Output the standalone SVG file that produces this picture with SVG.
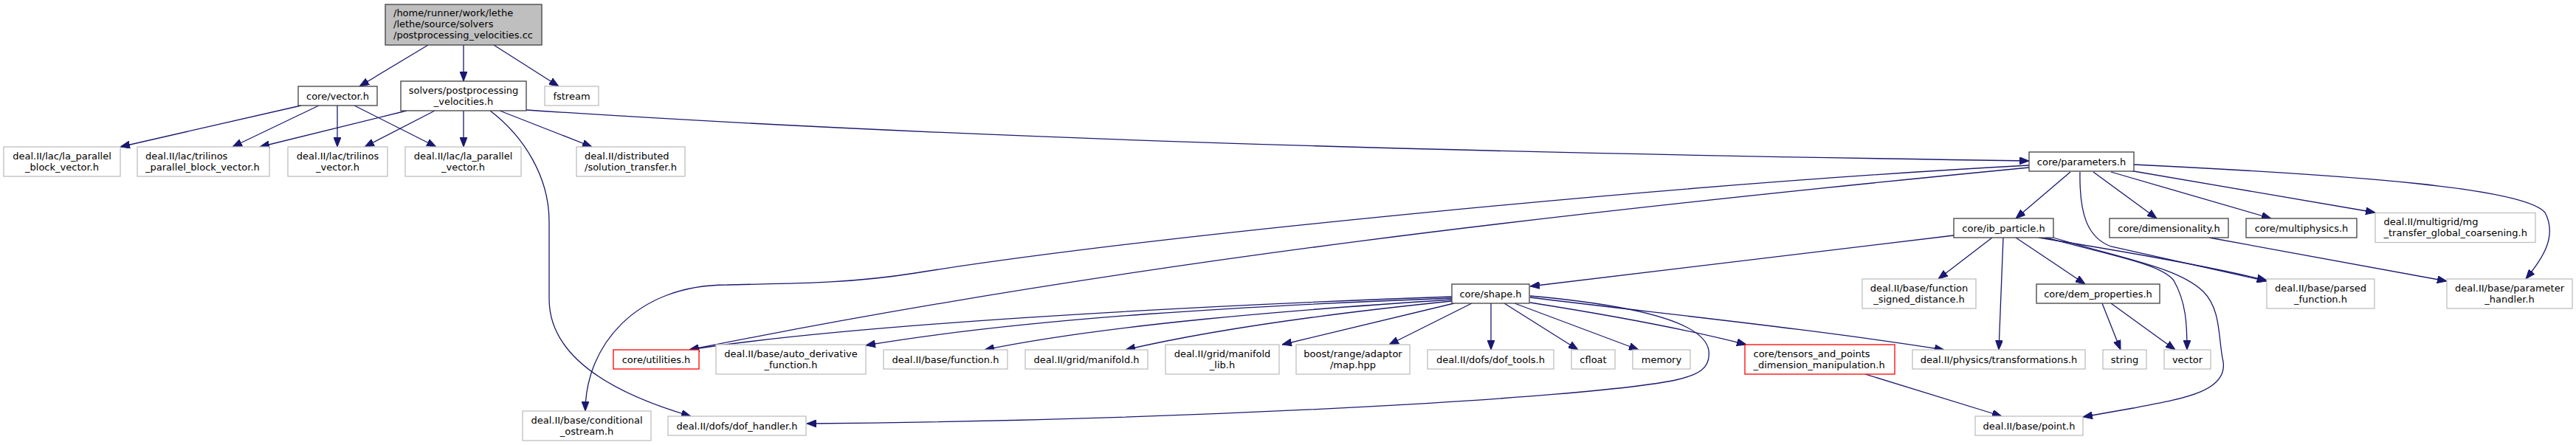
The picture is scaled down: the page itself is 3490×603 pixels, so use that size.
<svg xmlns="http://www.w3.org/2000/svg" width="3490" height="603" viewBox="0 0 3490 603">
<defs>
<marker id="ah" viewBox="0 0 13 10" refX="13" refY="5" markerWidth="13" markerHeight="10" markerUnits="userSpaceOnUse" orient="auto">
<path d="M0,0 L13,5 L0,10 z" fill="#191970" stroke="#191970" stroke-width="1"/>
</marker>
<style>
rect{stroke-width:1.3}
.doc{fill:#fff;stroke:#404040}
.ext{fill:#fff;stroke:#bfbfbf}
.red{fill:#fff;stroke:#ff0000}
.root{fill:#bfbfbf;stroke:#404040}
text{font-family:"DejaVu Sans",sans-serif;font-size:13px;fill:#000}
.c{text-anchor:middle}
.e{fill:none;stroke:#191970;stroke-width:1.3;marker-end:url(#ah)}
</style>
</defs>
<rect width="3490" height="603" fill="#fff"/>
<g id="edges">
<path class="e" d="M580,61 L487,117"/>
<path class="e" d="M628,61 L628,110"/>
<path class="e" d="M669,61 L757,117"/>
<path class="e" d="M408,143 L163,199"/>
<path class="e" d="M432,143 L315,199"/>
<path class="e" d="M457,143 L457,199"/>
<path class="e" d="M480,143 L591,199"/>
<path class="e" d="M551,150 L352,199"/>
<path class="e" d="M589,150 L494,199"/>
<path class="e" d="M628,150 L628,199"/>
<path class="e" d="M677,150 L802,199"/>
<path class="e" d="M664,150 C710,185 744,240 744,300 L744,405 C744,480 820,530 936,564"/>
<path class="e" d="M713,149 C1400,195 2200,210 2749,218"/>
<path class="e" d="M2805,233 L2731,296"/>
<path class="e" d="M2836,233 L2922,296"/>
<path class="e" d="M2860,233 L3077,296"/>
<path class="e" d="M2885,231 L3218,288"/>
<path class="e" d="M2891,223 C3200,238 3420,255 3448,288 C3465,320 3445,350 3422,378"/>
<path class="e" d="M2818,233 C2817,290 2828,322 2860,334 L3071,381"/>
<path class="e" d="M2749,227 C2149,285 1534,353 934,474"/>
<path class="e" d="M2749,224 C2249,251 1540,322 1240,370 C1140,386 1050,384 985,386 C860,386 793,470 793,557"/>
<path class="e" d="M2647,319 L2073,388"/>
<path class="e" d="M2699,322 L2626,378"/>
<path class="e" d="M2714,322 L2708,474"/>
<path class="e" d="M2731,322 L2825,385"/>
<path class="e" d="M2762,322 C2860,338 2980,358 3071,380"/>
<path class="e" d="M2771,322 C2880,350 2930,360 2945,380 C2962,410 2963,440 2963,474"/>
<path class="e" d="M2782,322 C2880,352 2950,362 2985,395 C3010,420 3005,460 3012,490 C3018,530 2960,540 2890,553 L2822,565"/>
<path class="e" d="M2848,411 L2873,474"/>
<path class="e" d="M2860,411 L2947,474"/>
<path class="e" d="M2993,322 L3315,381"/>
<path class="e" d="M2527,507 L2712,564"/>
<path class="e" d="M1967,402 C1600,415 1150,440 934,474"/>
<path class="e" d="M1967,404 C1700,414 1400,430 1173,468"/>
<path class="e" d="M1967,406 C1750,420 1500,440 1334,474"/>
<path class="e" d="M1967,408 C1800,425 1650,445 1525,474"/>
<path class="e" d="M1970,411 L1737,467"/>
<path class="e" d="M1994,411 L1882,467"/>
<path class="e" d="M2020,411 L2020,474"/>
<path class="e" d="M2038,411 L2138,474"/>
<path class="e" d="M2052,411 L2220,474"/>
<path class="e" d="M2073,403 C2250,425 2450,445 2634,474"/>
<path class="e" d="M2073,410 C2200,430 2300,450 2366,467"/>
<path class="e" d="M2073,401 C2230,415 2310,440 2315,475 C2318,500 2300,508 2270,515 C2150,540 1600,570 1093,574"/>
</g>
<g id="n0"><rect class="root" x="522" y="6" width="212" height="55"/><text x="533" y="21.5">/home/runner/work/lethe</text><text x="533" y="36.5">/lethe/source/solvers</text><text x="533" y="51.5">/postprocessing_velocities.cc</text></g>
<g id="n1"><rect class="doc" x="404" y="117" width="107" height="26"/><text class="c" x="457.5" y="134.5">core/vector.h</text></g>
<g id="n2"><rect class="doc" x="543" y="110" width="170" height="40"/><text class="c" x="628" y="126.5">solvers/postprocessing</text><text class="c" x="628" y="141.5">_velocities.h</text></g>
<g id="n3"><rect class="ext" x="738" y="117" width="73" height="26"/><text class="c" x="774.5" y="134.5">fstream</text></g>
<g id="n4"><rect class="ext" x="5" y="199" width="158" height="40"/><text class="c" x="84" y="215.5">deal.II/lac/la_parallel</text><text class="c" x="84" y="230.5">_block_vector.h</text></g>
<g id="n5"><rect class="ext" x="186" y="199" width="179" height="40"/><text x="197" y="215.5">deal.II/lac/trilinos</text><text x="197" y="230.5">_parallel_block_vector.h</text></g>
<g id="n6"><rect class="ext" x="390" y="199" width="135" height="40"/><text class="c" x="457.5" y="215.5">deal.II/lac/trilinos</text><text class="c" x="457.5" y="230.5">_vector.h</text></g>
<g id="n7"><rect class="ext" x="549" y="199" width="157" height="40"/><text class="c" x="627.5" y="215.5">deal.II/lac/la_parallel</text><text class="c" x="627.5" y="230.5">_vector.h</text></g>
<g id="n8"><rect class="ext" x="781" y="199" width="147" height="40"/><text x="792" y="215.5">deal.II/distributed</text><text x="792" y="230.5">/solution_transfer.h</text></g>
<g id="n9"><rect class="doc" x="2749" y="206" width="142" height="26"/><text class="c" x="2820" y="223.5">core/parameters.h</text></g>
<g id="n10"><rect class="doc" x="2647" y="296" width="135" height="26"/><text class="c" x="2714.5" y="313.5">core/ib_particle.h</text></g>
<g id="n11"><rect class="doc" x="2858" y="296" width="161" height="26"/><text class="c" x="2938.5" y="313.5">core/dimensionality.h</text></g>
<g id="n12"><rect class="doc" x="3043" y="296" width="150" height="26"/><text class="c" x="3118" y="313.5">core/multiphysics.h</text></g>
<g id="n13"><rect class="ext" x="3218" y="288.5" width="217" height="40"/><text x="3229.5" y="305">deal.II/multigrid/mg</text><text x="3229.5" y="320">_transfer_global_coarsening.h</text></g>
<g id="n14"><rect class="doc" x="1967" y="385" width="105" height="26"/><text class="c" x="2019.5" y="402.5">core/shape.h</text></g>
<g id="n15"><rect class="ext" x="2523" y="378" width="154" height="40"/><text class="c" x="2600" y="394.5">deal.II/base/function</text><text class="c" x="2600" y="409.5">_signed_distance.h</text></g>
<g id="n16"><rect class="doc" x="2759" y="385" width="167" height="26"/><text class="c" x="2842.5" y="402.5">core/dem_properties.h</text></g>
<g id="n17"><rect class="ext" x="3071" y="378" width="146" height="40"/><text class="c" x="3144" y="394.5">deal.II/base/parsed</text><text class="c" x="3144" y="409.5">_function.h</text></g>
<g id="n18"><rect class="ext" x="3315" y="378" width="170" height="40"/><text class="c" x="3400" y="394.5">deal.II/base/parameter</text><text class="c" x="3400" y="409.5">_handler.h</text></g>
<g id="n19"><rect class="red" x="831" y="474" width="116" height="26"/><text class="c" x="889" y="491.5">core/utilities.h</text></g>
<g id="n20"><rect class="ext" x="970" y="467" width="203" height="40"/><text class="c" x="1071.5" y="483.5">deal.II/base/auto_derivative</text><text class="c" x="1071.5" y="498.5">_function.h</text></g>
<g id="n21"><rect class="ext" x="1197" y="474" width="168" height="26"/><text class="c" x="1281" y="491.5">deal.II/base/function.h</text></g>
<g id="n22"><rect class="ext" x="1389" y="474" width="166" height="26"/><text class="c" x="1472" y="491.5">deal.II/grid/manifold.h</text></g>
<g id="n23"><rect class="ext" x="1579" y="467" width="154" height="40"/><text class="c" x="1656" y="483.5">deal.II/grid/manifold</text><text class="c" x="1656" y="498.5">_lib.h</text></g>
<g id="n24"><rect class="ext" x="1756" y="467" width="154" height="40"/><text class="c" x="1833" y="483.5">boost/range/adaptor</text><text class="c" x="1833" y="498.5">/map.hpp</text></g>
<g id="n25"><rect class="ext" x="1934" y="474" width="171" height="26"/><text class="c" x="2019.5" y="491.5">deal.II/dofs/dof_tools.h</text></g>
<g id="n26"><rect class="ext" x="2129" y="474" width="59" height="26"/><text class="c" x="2158.5" y="491.5">cfloat</text></g>
<g id="n27"><rect class="ext" x="2212" y="474" width="78" height="26"/><text class="c" x="2251" y="491.5">memory</text></g>
<g id="n28"><rect class="red" x="2364" y="467" width="203" height="40"/><text x="2375.5" y="483.5">core/tensors_and_points</text><text x="2375.5" y="498.5">_dimension_manipulation.h</text></g>
<g id="n29"><rect class="ext" x="2591" y="474" width="234" height="26"/><text class="c" x="2708" y="491.5">deal.II/physics/transformations.h</text></g>
<g id="n30"><rect class="ext" x="2849" y="474" width="59" height="26"/><text class="c" x="2878.5" y="491.5">string</text></g>
<g id="n31"><rect class="ext" x="2932" y="474" width="63" height="26"/><text class="c" x="2963.5" y="491.5">vector</text></g>
<g id="n32"><rect class="ext" x="708" y="557" width="174" height="40"/><text class="c" x="795" y="573.5">deal.II/base/conditional</text><text class="c" x="795" y="588.5">_ostream.h</text></g>
<g id="n33"><rect class="ext" x="905" y="564" width="187" height="26"/><text class="c" x="998.5" y="581.5">deal.II/dofs/dof_handler.h</text></g>
<g id="n34"><rect class="ext" x="2676" y="564" width="146" height="26"/><text class="c" x="2749" y="581.5">deal.II/base/point.h</text></g>
</svg>
